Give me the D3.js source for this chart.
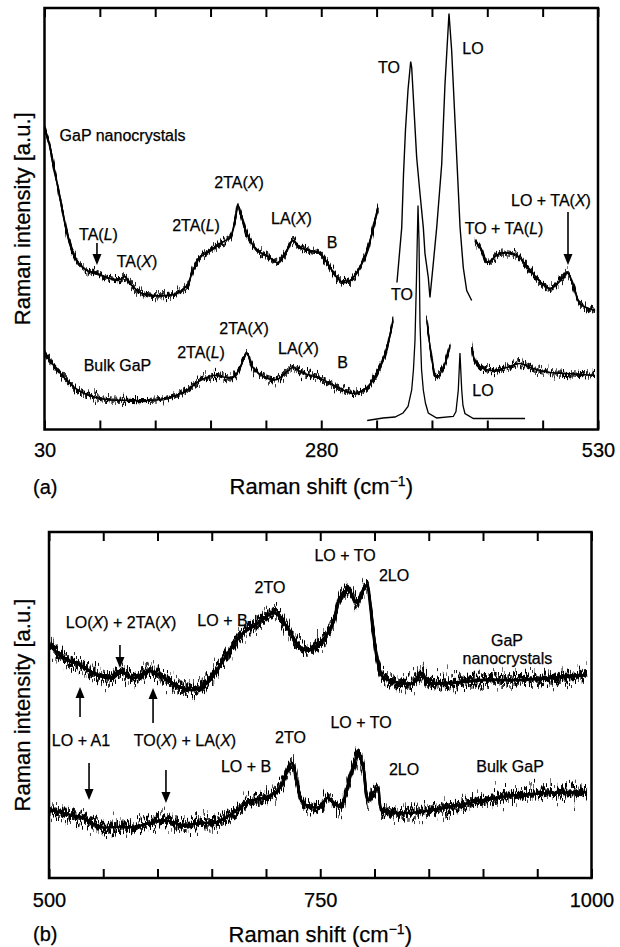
<!DOCTYPE html>
<html>
<head>
<meta charset="utf-8">
<script src="https://cdn.jsdelivr.net/npm/d3@7"></script>
<style>
  body { margin: 0; background: #fff; }
  svg { display: block; }
  text { font-family: "Liberation Sans", Arial, Helvetica, sans-serif; fill: #000; stroke: #000; stroke-width: 0.25px; }
</style>
</head>
<body>
<svg id="chart" width="620" height="947"></svg>
<script>
// ---------- Panel (a): low-frequency Raman spectra, [shift cm^-1, intensity a.u.] ----------
const shiftTicksA = [30, 80, 130, 180, 230, 280, 330, 380, 430, 480, 530];
const shiftLabelsA = [30, 280, 530];

// GaP nanocrystals, acoustic region
const nanoA_acoustic = [[30,302],[35.0,282],[37.7,266],[42.2,242],[46.7,216],[50.4,196],[54.8,179],[60.3,167],
  [68.4,159],[77.4,156],[89.2,151],[98.2,150],[102.7,153],[107.2,146],[116.3,137],[128.0,134],[140.7,134],
  [149.7,136],[158.7,144],[164.1,159],[170.5,172],[179.5,179],[188.5,186],[197.6,192],[202.1,209],[204.8,224],
  [208.4,212],[212.9,196],[222.0,179],[231.0,174],[240.9,167],[249.0,179],[254.5,189],[260.8,182],[269.9,179],
  [278.9,176],[287.9,162],[294.2,152],[299.7,147],[306.0,149],[312.3,157],[317.8,169],[322.3,182],[325.9,196],
  [328.6,209],[331.3,222]];
// GaP nanocrystals, TO / LO region
const nanoA_optical = [[348.4,147],[352.7,202],[354.3,255],[356.1,300],[358.4,340],[360.8,368],[361.7,362],
  [366.2,272],[369.2,236],[372.2,202],[373.7,176],[376.7,152],[378.2,132],[381.2,166],[384.3,202],[388.8,265],
  [391.8,346],[395.4,416],[397.8,379],[402.4,272],[405.4,202],[408.3,162],[411.4,139],[415.9,129]];
// GaP nanocrystals, combination region
const nanoA_combination = [[418.9,189],[425.2,179],[429.7,167],[441.5,176],[456.8,174],[468.6,159],[486.6,141],
  [498.4,152],[502.0,157],[507.4,146],[513.7,126],[527.3,119]];

// Bulk GaP, acoustic region
const bulkA_acoustic = [[30,77],[41.3,60],[59.4,40],[80.1,31],[110,29],[134.3,30],[155.1,37],[170.8,49],
  [182.2,54],[200.3,52],[206.6,62],[212.9,76],[218.3,62],[227.4,53],[240.0,50],[254.5,62],[262,57],
  [278.9,51],[297.0,41],[308.7,36],[321.3,42],[333.1,62],[339.4,82],[344.8,109]];
// Bulk GaP, full-scale TO / LO lines
const bulkA_full = [[321.5,9],[335.8,11.5],[346.6,12.5],[353.9,16.5],[358.4,23],[361.7,39.5],[363.3,60],
  [364.7,89.5],[366.0,150],[367.4,224],[368.3,190],[369.2,106],[370.6,60],[372.2,39.5],[374.2,26],[376.7,16.5],
  [384.3,11.5],[399.3,13],[401.7,18],[403.8,39.5],[405.3,76.5],[406.9,39.5],[408.0,24],[409.8,16],[417.4,11],
  [464.1,11]];
// Bulk GaP, between TO and LO (expanded)
const bulkA_between = [[375.3,109],[378.2,84],[381.0,64],[382.8,54],[385.5,53],[389.1,59],[392.7,69],[396.3,84]];
// Bulk GaP, combination region
const bulkA_combination = [[415.9,82],[420.4,66],[432.4,59],[447.5,62],[459.4,66],[471.3,61],[486.6,57],
  [501.7,56],[527.3,54]];

// ---------- Panel (b): second-order Raman spectra ----------
const shiftTicksB = [500, 550, 600, 650, 700, 750, 800, 850, 900, 950, 1000];
const shiftLabelsB = [500, 750, 1000];

const nanoB = [[500.9,232],[516.6,218],[526.7,214],[540.6,205],[556.2,200],[565.4,207],[577.4,200],[593.1,207],
  [608.8,198],[620.7,191],[632.7,188],[645.6,195],[654.8,208],[666.8,228],[678.8,245],[691.7,254],[700.9,262],
  [708.3,265],[719.4,251],[731.3,231],[740.6,228],[749.8,235],[761.8,255],[768.2,280],[775.6,288],[783.9,275],
  [788.5,286],[793.1,293],[795.9,275],[798.6,248],[803.2,215],[807.8,201],[823.5,195],[835.5,195],[843.8,205],
  [848.4,196],[869.6,195],[900.0,198],[931.3,198],[961.8,200],[995.9,203]];
const bulkB = [[500.9,68],[516.6,64],[531.3,60],[547.0,51],[562.7,51],[577.4,51],[593.1,55],[605.1,58],
  [623.5,53],[639.2,55],[654.8,56],[669.6,65],[685.3,77],[700.9,81],[712.9,90],[719.4,107],[724.0,115],
  [728.6,96],[734.1,75],[749.8,71],[756.2,80],[768.2,71],[774.7,90],[782.0,117],[784.8,123],[789.4,112],
  [794.0,78],[798.6,85],[803.2,89],[806.9,68],[823.5,65],[841.9,66],[869.6,71],[900.0,78],[931.3,83],
  [961.8,85],[995.9,86]];

// ---------- Peak assignments: [text, shift, intensity]; *X* marks italic ----------
const labelsA = [
  ["GaP nanocrystals", 100.5, 289], ["TA(*L*)", 78.8, 190], ["TA(*X*)", 113.6, 163],
  ["2TA(*L*)", 166.9, 199], ["2TA(*X*)", 205.7, 242], ["LA(*X*)", 253.1, 206], ["B", 289.7, 182],
  ["TO", 341.2, 357], ["LO", 417.1, 376], ["LO + TA(*X*)", 487.5, 224], ["TO + TA(*L*)", 445.1, 196],
  ["Bulk GaP", 95.9, 59], ["2TA(*L*)", 171.4, 72], ["2TA(*X*)", 210.2, 96], ["LA(*X*)", 259.4, 76],
  ["B", 299.2, 62], ["TO", 353.0, 130], ["LO", 426.1, 34]
];
const arrowsA = [[77.4, 186.5, 164.5], [502.9, 217.5, 164.5]]; // [shift, from, tip]

const labelsB = [
  ["LO(*X*) + 2TA(*X*)", 566.4, 250], ["LO + B", 659.9, 252], ["2TO", 703.7, 285], ["LO + TO", 772.8, 317],
  ["2LO", 818.0, 297], ["GaP", 922.1, 232], ["nanocrystals", 922.5, 214],
  ["LO + A1", 529.5, 132], ["TO(*X*) + LA(*X*)", 625.3, 132], ["LO + B", 681.6, 106], ["2TO", 722.6, 135],
  ["LO + TO", 787.6, 150], ["2LO", 827.2, 103], ["Bulk GaP", 924.9, 106]
];
const arrowsB = [[565.4, 233, 210], [528.6, 161, 191], [595.9, 155, 190], [536.9, 115, 78], [607.8, 108, 75]];

// ---------- Drawing ----------
const svg = d3.select("#chart");
const defs = svg.append("defs");

// detector-noise texture: vertical per-column jitter of the trace
function grainFilter(id, scale, seed, freq) {
  const f = defs.append("filter").attr("id", id)
    .attr("x", "-5%").attr("y", "-30%").attr("width", "110%").attr("height", "160%")
    .attr("color-interpolation-filters", "sRGB");
  f.append("feTurbulence").attr("type", "fractalNoise").attr("baseFrequency", freq)
    .attr("numOctaves", 3).attr("seed", seed).attr("result", "t");
  f.append("feColorMatrix").attr("in", "t").attr("type", "matrix")
    .attr("values", "0 0 0 0 0.5  1 0 0 0 0  0 0 0 0 0  0 0 0 0 1").attr("result", "m");
  f.append("feDisplacementMap").attr("in", "SourceGraphic").attr("in2", "m").attr("scale", scale)
    .attr("xChannelSelector", "R").attr("yChannelSelector", "G").attr("result", "d");
  f.append("feMorphology").attr("in", "d").attr("operator", "dilate").attr("radius", "0 0.7");
}
grainFilter("grainA1", 20, 3, "0.9 0.02");
grainFilter("grainA2", 14, 11, "0.6 0.03");
grainFilter("grainB1", 30, 5, "0.9 0.02");
grainFilter("grainB2", 22, 17, "0.6 0.03");
grainFilter("grainB3", 42, 23, "1.1 0.02");
grainFilter("grainB4", 26, 31, "1.3 0.04");

function richText(sel, str) {
  str.split(/(\*[^*]+\*)/).filter(s => s.length).forEach(s => {
    const it = s.startsWith("*");
    sel.append("tspan").text(it ? s.slice(1, -1) : s).attr("font-style", it ? "italic" : null);
  });
}

function axisTitle(g, x, y, rotate) {
  const t = g.append("text").attr("font-size", 22).attr("text-anchor", "middle")
    .attr("transform", `translate(${x},${y})` + (rotate ? " rotate(-90)" : ""));
  if (rotate) { t.text("Raman intensity [a.u.]"); return; }
  t.append("tspan").text("Raman shift (cm");
  t.append("tspan").text("\u22121").attr("font-size", 14).attr("dy", -8);
  t.append("tspan").text(")").attr("dy", 8);
}

function panel(cfg) {
  const x = d3.scaleLinear().domain(cfg.xDomain).range([cfg.left, cfg.right]);
  const y = d3.scaleLinear().domain(cfg.yDomain).range([cfg.bottom, cfg.top]);
  const g = svg.append("g");

  const line = (curve) => d3.line().x(d => x(d[0])).y(d => y(d[1])).curve(curve);
  const smooth = line(d3.curveCatmullRom.alpha(0.5));
  const sharp = line(d3.curveLinear);

  // noisy traces: a base line plus displaced grain layers
  cfg.noisy.forEach(s => {
    g.append("path").attr("d", (s.sharp ? sharp : smooth)(s.data))
      .attr("fill", "none").attr("stroke", "#000").attr("stroke-width", s.w);
  });
  cfg.grains.forEach(gr => {
    const layer = g.append("g").attr("filter", `url(#${gr.id})`);
    cfg.noisy.filter(s => s.grain !== false).forEach(s => {
      layer.append("path").attr("d", (s.sharp ? sharp : smooth)(s.data))
        .attr("fill", "none").attr("stroke", "#000").attr("stroke-width", gr.w);
    });
  });
  (cfg.clean || []).forEach(s => {
    g.append("path").attr("d", sharp(s.data))
      .attr("fill", "none").attr("stroke", "#000").attr("stroke-width", s.w);
  });

  // frame and inward ticks
  const axB = g.append("g").attr("transform", `translate(0,${cfg.bottom})`)
    .call(d3.axisBottom(x).tickValues(cfg.ticks).tickSize(-9).tickPadding(cfg.pad)
      .tickFormat(d => cfg.tickLabels.includes(d) ? d : ""));
  const axT = g.append("g").attr("transform", `translate(0,${cfg.top})`)
    .call(d3.axisTop(x).tickValues(cfg.ticks).tickSize(-9).tickFormat(""));
  [axB, axT].forEach(a => {
    a.select(".domain").remove();
    a.selectAll(".tick line").attr("stroke", "#000").attr("stroke-width", 2);
  });
  axB.selectAll(".tick text").attr("font-size", 20).attr("font-family", null).attr("fill", "#000");
  g.append("rect").attr("x", cfg.left).attr("y", cfg.top)
    .attr("width", cfg.right - cfg.left).attr("height", cfg.bottom - cfg.top)
    .attr("fill", "none").attr("stroke", "#000").attr("stroke-width", 2.5);

  // assignments
  cfg.labels.forEach(([t, sx, iy]) => {
    richText(g.append("text").attr("font-size", 16).attr("text-anchor", "middle")
      .attr("x", x(sx)).attr("y", y(iy)), t);
  });
  cfg.arrows.forEach(([sx, from, tip]) => {
    const px = x(sx), y0 = y(from), y1 = y(tip);
    const dir = Math.sign(y1 - y0), hl = 11, hw = 4.5;
    g.append("line").attr("x1", px).attr("x2", px).attr("y1", y0).attr("y2", y1 - dir * hl)
      .attr("stroke", "#000").attr("stroke-width", 1.6);
    g.append("path").attr("d", `M${px},${y1}L${px - hw},${y1 - dir * hl}L${px + hw},${y1 - dir * hl}Z`)
      .attr("fill", "#000");
  });

  axisTitle(g, (cfg.left + cfg.right) / 2, cfg.titleY, false);
  axisTitle(g, 30, (cfg.top + cfg.bottom) / 2, true);
  g.append("text").attr("font-size", 20).attr("x", 33).attr("y", cfg.tagY).text(cfg.tag);
}

panel({
  xDomain: [30, 530], yDomain: [0, 421.5], left: 44.5, right: 598, top: 8, bottom: 429.5,
  ticks: shiftTicksA, tickLabels: shiftLabelsA, pad: 13,
  noisy: [
    { data: nanoA_acoustic, w: 1.8 }, { data: nanoA_optical, w: 1.4, sharp: true, grain: false },
    { data: nanoA_combination, w: 1.8 }, { data: bulkA_acoustic, w: 1.7 },
    { data: bulkA_between, w: 1.3 }, { data: bulkA_combination, w: 1.7 }
  ],
  grains: [{ id: "grainA1", w: 1.2 }, { id: "grainA2", w: 1.2 }],
  clean: [{ data: bulkA_full, w: 1.3 }],
  labels: labelsA, arrows: arrowsA, titleY: 494, tag: "(a)", tagY: 494
});

panel({
  xDomain: [500, 1000], yDomain: [0, 346], left: 49, right: 591.5, top: 532, bottom: 878,
  ticks: shiftTicksB, tickLabels: shiftLabelsB, pad: 15,
  noisy: [{ data: nanoB, w: 3 }, { data: bulkB, w: 2.6 }],
  grains: [{ id: "grainB1", w: 1.8 }, { id: "grainB2", w: 1.8 }, { id: "grainB3", w: 1 }, { id: "grainB4", w: 1.5 }],
  labels: labelsB, arrows: arrowsB, titleY: 942, tag: "(b)", tagY: 941
});
</script>
</body>
</html>
